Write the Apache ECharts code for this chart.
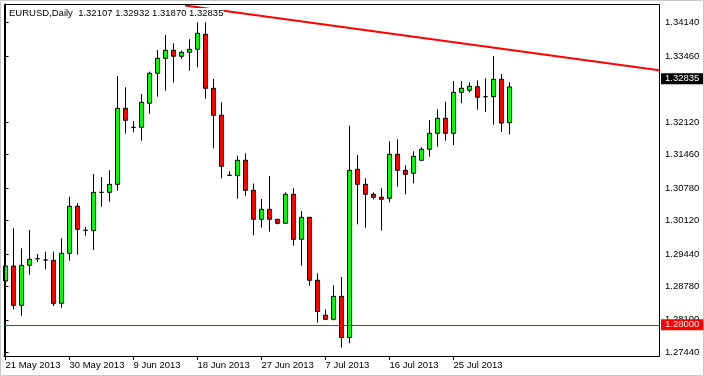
<!DOCTYPE html>
<html>
<head>
<meta charset="utf-8">
<script src="https://cdn.jsdelivr.net/npm/echarts@6/dist/echarts.min.js"></script>
<style>
html,body{margin:0;padding:0;background:#fff;}
#chart{width:704px;height:376px;}
</style>
</head>
<body>
<div id="chart"></div>
<script>
// ---- data ----
const dates = ['21 May 2013','22 May 2013','23 May 2013','24 May 2013','26 May 2013','27 May 2013','28 May 2013','29 May 2013',
 '30 May 2013','31 May 2013','2 Jun 2013','3 Jun 2013','4 Jun 2013','5 Jun 2013','6 Jun 2013','7 Jun 2013',
 '9 Jun 2013','10 Jun 2013','11 Jun 2013','12 Jun 2013','13 Jun 2013','14 Jun 2013','16 Jun 2013','17 Jun 2013',
 '18 Jun 2013','19 Jun 2013','20 Jun 2013','21 Jun 2013','23 Jun 2013','24 Jun 2013','25 Jun 2013','26 Jun 2013',
 '27 Jun 2013','28 Jun 2013','30 Jun 2013','1 Jul 2013','2 Jul 2013','3 Jul 2013','4 Jul 2013','5 Jul 2013',
 '7 Jul 2013','8 Jul 2013','9 Jul 2013','10 Jul 2013','11 Jul 2013','12 Jul 2013','14 Jul 2013','15 Jul 2013',
 '16 Jul 2013','17 Jul 2013','18 Jul 2013','19 Jul 2013','21 Jul 2013','22 Jul 2013','23 Jul 2013','24 Jul 2013',
 '25 Jul 2013','26 Jul 2013','28 Jul 2013','29 Jul 2013','30 Jul 2013','31 Jul 2013','1 Aug 2013','2 Aug 2013'];

const open = [1.28889,1.29194,1.28395,1.29209,1.29343,1.29316,1.29310,1.28436,1.29452,1.30408,
 1.29920,1.29912,1.30692,1.30692,1.30855,1.32400,1.32014,1.32014,1.32502,1.33112,
 1.33416,1.33579,1.33457,1.33538,1.33599,1.33904,1.32807,1.32258,1.31038,1.31030,
 1.31343,1.30733,1.30144,1.30347,1.30144,1.30062,1.30652,1.29737,1.30184,1.28904,
 1.28194,1.28111,1.28578,1.27741,1.31160,1.30855,1.30652,1.30591,1.30571,1.31465,
 1.31140,1.31079,1.31343,1.31567,1.31892,1.32197,1.31892,1.32725,1.32766,1.32839,
 1.32636,1.32636,1.32990,1.32107];

const close = [1.29194,1.28395,1.29209,1.29331,1.29343,1.29316,1.28436,1.29452,1.30408,1.29940,
 1.29920,1.30692,1.30692,1.30855,1.32400,1.32156,1.32014,1.32522,1.33112,1.33416,
 1.33579,1.33457,1.33538,1.33599,1.33925,1.32807,1.32258,1.31221,1.31038,1.31343,
 1.30733,1.30144,1.30347,1.30144,1.30062,1.30652,1.29737,1.30184,1.28904,1.28269,
 1.28111,1.28578,1.27741,1.31140,1.30855,1.30652,1.30591,1.30550,1.31465,1.31140,
 1.31058,1.31424,1.31567,1.31892,1.32197,1.31892,1.32725,1.32807,1.32847,1.32624,
 1.32636,1.32990,1.32101,1.32835];

const low = [1.28381,1.28314,1.28184,1.29018,1.29276,1.29127,1.28381,1.28347,1.29302,1.29424,
 1.29810,1.29520,1.30400,1.30501,1.30725,1.31884,1.31912,1.31741,1.32290,1.32636,
 1.32758,1.32925,1.33408,1.33164,1.33234,1.32595,1.31587,1.30977,1.31024,1.30562,
 1.30623,1.29818,1.29977,1.29892,1.30042,1.30062,1.29607,1.29200,1.28794,1.28046,
 1.28111,1.28091,1.27538,1.27623,1.30042,1.29973,1.30550,1.29916,1.30489,1.30806,
 1.30652,1.30875,1.31343,1.31416,1.31619,1.31741,1.31654,1.32502,1.32725,1.32372,
 1.32325,1.32067,1.31918,1.31870];

const high = [1.29316,1.29961,1.29554,1.29926,1.29438,1.29485,1.29485,1.29757,1.30603,1.30469,
 1.29993,1.31064,1.31003,1.31140,1.33057,1.32827,1.32142,1.32691,1.33144,1.33585,
 1.33890,1.33721,1.33571,1.33803,1.34148,1.34148,1.32996,1.32522,1.31119,1.31437,
 1.31485,1.30871,1.30556,1.31024,1.30144,1.30692,1.30774,1.30312,1.30184,1.29046,
 1.28314,1.28802,1.28971,1.32046,1.31451,1.30977,1.30692,1.30774,1.31729,1.31770,
 1.31241,1.31526,1.31607,1.32162,1.32380,1.32534,1.32955,1.32955,1.32929,1.32969,
 1.33010,1.33463,1.33097,1.32932];

const xTickLabels = ['21 May 2013','30 May 2013','9 Jun 2013','18 Jun 2013','27 Jun 2013','7 Jul 2013','16 Jul 2013','25 Jul 2013'];
const yTickValues = [1.27440,1.28100,1.28780,1.29440,1.30120,1.30780,1.31460,1.32120,1.33460,1.34140];
const trendLine = [[22.44, 1.34490],[81.6875, 1.33173]];
const levelLine = 1.28000;
const symbolName = 'EURUSD,Daily';

// ---- build ----
const last = dates.length - 1;
const candles = dates.map((d, i) => [i, open[i], close[i], low[i], high[i]]);
const xTickIdx = xTickLabels.map(l => dates.indexOf(l));
const header = symbolName + '  ' + [open[last], high[last], low[last], close[last]].map(v => v.toFixed(5)).join(' ');
const FONT = 'Liberation Sans';

const chart = echarts.init(document.getElementById('chart'), null, {renderer: 'canvas'});
chart.setOption({
  animation: false,
  backgroundColor: '#ffffff',
  grid: {left: 4, right: 45, top: 4, bottom: 20, containLabel: false},
  xAxis: {
    type: 'value',
    min: -0.1875, max: 81.6875,
    splitLine: {show: false},
    axisLine: {show: true, onZero: false, lineStyle: {color: '#000', width: 1}},
    axisTick: {show: true, inside: false, length: 4, customValues: xTickIdx, lineStyle: {color: '#000'}},
    axisLabel: {
      show: true, customValues: xTickIdx, margin: 4, align: 'left',
      color: '#000', fontFamily: FONT, fontSize: 9.5,
      formatter: v => dates[Math.round(v)]
    }
  },
  yAxis: {
    type: 'value', position: 'right',
    min: 1.27365, max: 1.34520,
    splitLine: {show: false},
    axisLine: {show: true, lineStyle: {color: '#000', width: 1}},
    axisTick: {show: true, inside: false, length: 3, customValues: yTickValues, lineStyle: {color: '#000'}},
    axisLabel: {
      show: true, customValues: yTickValues, margin: 6, align: 'left',
      color: '#000', fontFamily: FONT, fontSize: 9.5,
      formatter: v => v.toFixed(5)
    }
  },
  series: [
    {
      type: 'candlestick',
      data: candles,
      barWidth: 4,
      clip: true,
      large: false,
      itemStyle: {
        color: '#00ff00', color0: '#ff0000',
        borderColor: '#000000', borderColor0: '#000000', borderColorDoji: '#000000',
        borderWidth: 1
      },
      emphasis: {disabled: true},
      markLine: {
        silent: true, symbol: 'none', animation: false,
        data: [
          {yAxis: levelLine,
           lineStyle: {color: '#ff0000', width: 1, type: 'solid'},
           label: {show: true, position: 'end', distance: 2, formatter: levelLine.toFixed(5),
                   color: '#fff', backgroundColor: '#ff0000', padding: [1, 4, 1, 4],
                   fontFamily: FONT, fontSize: 9.5, lineHeight: 9}},
          {yAxis: close[last],
           lineStyle: {color: 'rgba(0,0,0,0)', width: 1},
           label: {show: true, position: 'end', distance: 2, formatter: close[last].toFixed(5),
                   color: '#fff', backgroundColor: '#000000', padding: [1, 4, 1, 4],
                   fontFamily: FONT, fontSize: 9.5, lineHeight: 9, opacity: 1}}
        ]
      }
    },
    {
      type: 'line',
      data: trendLine,
      symbol: 'none',
      clip: true,
      lineStyle: {color: '#ff0000', width: 2},
      silent: true,
      z: 3
    }
  ],
  graphic: [
    {type: 'rect', z: 100, silent: true,
     shape: {x: 4.5, y: 4.5, width: 655, height: 352},
     style: {fill: 'none', stroke: '#000', lineWidth: 1}},
    {type: 'rect', z: 100, silent: true,
     shape: {x: 0.5, y: 0.5, width: 703, height: 375},
     style: {fill: 'none', stroke: '#c8c8c8', lineWidth: 1}},
    {type: 'text', z: 101, left: 9, top: 8, silent: true,
     style: {text: header, fill: '#000', font: '9.5px "' + FONT + '"', backgroundColor: '#fff'}}
  ]
});
</script>
</body>
</html>
